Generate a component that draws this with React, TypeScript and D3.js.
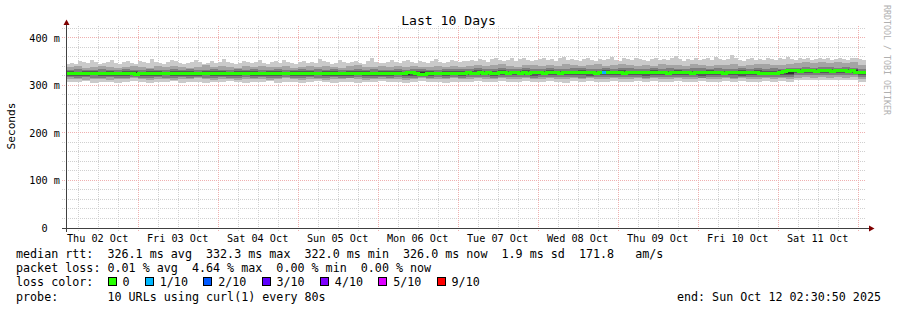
import React from 'react';
import * as d3 from 'd3';

// ---- time range ----
const END = Date.UTC(2025, 9, 12, 2, 30, 50);
const START = END - 10 * 86400000;

// ---- series (ms) ----
const median = [
  324.5,325,324,324.5,325,325.5,324,323.5,324.5,325, 325,324.5,324,325,325.5,324.5,324,323,324.5,325,
  325,324.5,325,324,324.5,325.5,325,324,324.5,325, 324.5,324,325,325.5,324.5,324,325,324.5,325,324,
  324.5,325,324.5,324,323.5,324.5,325,325,324.5,325.5, 324,324.5,325,324.5,324,325,325.5,325,324.5,324,
  324.5,325,324,323.5,324.5,325,324.5,325,325.5,324.5, 324,324.5,325,324.5,325,324,324.5,325,324.5,325,
  325,324.5,324.5,325,324,326,327,325,323,322.5, 324,325,325.5,324.5,325,325.5,324.5,325,325,325.5,
  326,325.5,325,326,325.5,326,325,325.5,326,326, 325.5,326,326.5,325.5,326,325.5,326,326.5,326,325.5,
  326,326.5,326,325.5,326,326.5,326,326.5,327,326, 326.5,326,325.5,326,326,326.5,326,326.5,326,325.5,
  326,326.5,326,326.5,327,326.5,326,326,326.5,326, 325.5,326,326.5,326,326.5,326,325.5,326,326.5,326,
  326.5,326,326.5,326,325.5,326,326.5,326,326,326.5, 326,326.5,326,325.5,325,324,323.5,325,326,328,
  330,330.5,330,329.5,330,330.5,330,329.5,330,330.5, 330,329.5,330,330.5,330,329.5,330,326.5,326,326.5,
];
const pingMax = [
  345,347,344,350,348,346,352,349,345,347, 348,353,346,344,349,351,347,345,350,348,
  346,354,349,347,345,348,352,350,346,344, 347,349,353,348,345,346,350,347,349,355,
  348,346,344,347,351,349,346,348,352,347, 345,349,350,347,353,348,346,344,348,351,
  347,349,346,354,350,348,345,347,352,349, 346,348,351,347,345,350,356,349,347,346,
  348,352,349,346,350,353,348,347,351,349, 346,350,354,348,347,349,352,350,348,351,
  350,353,351,355,352,349,354,357,352,350, 353,356,351,354,358,353,350,352,355,357,
  352,354,351,356,359,353,355,352,350,354, 357,353,351,355,352,354,360,353,351,356,
  354,352,357,355,353,351,354,358,352,355, 353,356,362,354,351,355,353,357,352,354,
  356,353,359,355,352,354,364,356,353,351, 355,357,353,354,352,358,355,353,356,354,
  360,355,353,357,354,356,352,355,358,354, 356,353,355,357,354,352,356,358,355,353,
];
const ping9 = [
  338,340,337,339,341,338,336,339,340,338, 337,340,339,341,338,337,339,342,338,340,
  339,337,340,338,341,339,338,340,337,339, 341,338,340,339,337,340,342,339,338,340,
  339,341,338,340,339,338,341,339,340,338, 341,343,340,342,344,341,339,343,342,340,
  343,341,344,342,340,343,345,341,342,344, 342,340,343,341,344,342,343,341,345,342,
  341,343,342,344,341,343,345,344,342,343, 345,346,348,347,349,347,348,347,348,343,
];
const ping8 = [
  332,333,331,332,334,332,331,333,332,331, 333,332,331,333,332,334,331,332,333,332,
  331,333,332,334,332,331,333,332,331,333, 332,334,331,333,332,331,334,332,333,332,
  331,333,332,334,333,332,331,333,334,333, 334,335,333,334,336,334,333,335,334,333,
  335,334,333,335,336,334,333,335,334,336, 335,333,334,336,334,335,333,334,336,335,
  334,335,333,334,335,334,336,334,335,334, 335,337,338,337,339,338,337,338,337,333,
];
const ping7 = [
  329,328,329,330,328,329,328,330,329,328, 329,330,328,329,330,329,328,329,330,329,
  328,329,330,329,328,330,329,328,329,330, 329,328,330,329,328,329,330,329,328,329,
  330,329,328,329,330,329,328,329,330,329, 330,331,329,330,331,330,329,331,330,329,
  331,330,329,330,331,330,329,331,330,331, 330,329,330,331,330,329,331,330,329,330,
  331,330,329,330,331,330,331,329,330,331, 331,333,334,333,334,333,334,333,334,330,
];
const ping6 = [
  326,327,326,327,326,327,326,327,327,326, 327,326,327,326,327,326,327,326,327,327,
  326,327,326,327,326,327,327,326,327,326, 327,326,327,326,327,326,327,327,326,327,
  326,327,327,326,327,327,326,327,327,328, 328,327,328,327,328,328,327,328,327,328,
  328,327,328,328,327,328,327,328,328,327, 328,327,328,327,328,328,327,328,327,328,
  327,328,328,327,328,327,328,327,328,328, 328,331,332,331,332,331,332,331,332,328,
];
const ping5 = [
  323,322,323,323,322,323,322,323,323,322, 323,322,323,323,322,323,323,322,323,322,
  323,323,322,323,322,323,323,322,323,322, 323,322,323,323,322,323,322,323,323,322,
  323,323,322,323,324,323,324,323,324,323, 324,325,324,324,325,324,325,324,324,325,
  324,325,324,325,324,324,325,324,325,324, 325,324,325,324,325,325,324,325,324,325,
  324,325,324,325,324,325,324,325,324,325, 324,328,329,328,329,328,329,328,329,324,
];
const ping4 = [
  320,319,320,321,319,320,320,319,321,320, 319,320,321,320,319,320,320,321,319,320,
  320,319,321,320,320,319,320,321,320,319, 320,321,319,320,320,319,321,320,319,320,
  320,321,319,320,321,320,321,320,321,320, 321,322,321,320,322,321,322,321,320,322,
  321,322,321,322,321,320,322,321,322,321, 322,321,320,322,321,322,321,322,321,320,
  322,321,322,321,320,322,321,322,321,322, 321,325,326,325,326,325,326,325,326,321,
];
const ping3 = [
  317,316,317,315,316,317,316,315,317,316, 316,317,315,316,317,316,317,315,316,317,
  316,315,317,316,317,316,315,317,316,316, 317,316,315,317,316,316,317,315,316,317,
  316,317,316,315,317,316,317,316,317,316, 317,318,317,316,318,317,318,317,316,318,
  317,318,317,318,316,317,318,317,318,317, 318,317,316,318,317,318,317,318,317,316,
  318,317,318,316,317,318,317,318,317,318, 317,321,322,321,322,321,322,321,322,317,
];
const ping2 = [
  313,312,311,313,312,311,313,312,314,312, 311,313,312,311,313,312,314,312,311,313,
  312,311,313,312,313,311,312,314,312,311, 313,312,311,313,312,314,312,311,313,312,
  312,313,311,312,314,313,312,313,314,312, 313,314,312,313,315,313,312,314,313,312,
  314,313,312,314,313,315,313,312,314,313, 312,314,313,315,313,312,314,313,312,314,
  313,312,314,313,315,313,312,314,313,314, 313,316,317,316,317,316,317,316,317,313,
];
const pingMin = [
  307,306,308,305,307,306,304,307,308,306, 305,307,306,308,305,307,306,304,307,306,
  308,306,305,307,306,308,305,307,306,305, 307,308,306,305,307,306,304,307,306,308,
  306,307,305,306,308,307,306,305,307,306, 307,308,306,307,309,307,306,308,307,306,
  308,307,305,308,307,309,306,307,308,306, 307,308,306,309,307,306,308,307,306,308,
  307,306,308,307,309,307,306,308,307,308, 307,310,311,310,311,310,311,310,311,307,
];

// loss events on the median (step index, loss level index into lossColors)
const lossStep = [134];
const lossLevel = [1];

const smokeColors = ['#cacaca', '#a4a4a4', '#7e7e7e', '#585858', '#323232'];
const lossLabels = ['0', '1/10', '2/10', '3/10', '4/10', '5/10', '9/10'];
const lossColors = ['#26ff00', '#00b8ff', '#0059ff', '#5e00ff', '#7e00ff', '#dd00ff', '#ff0000'];

const yTicks = [0, 100, 200, 300, 400];
const yMinor = [20, 40, 60, 80, 120, 140, 160, 180, 220, 240, 260, 280, 320, 340, 360, 380, 420];

const title = 'Last 10 Days';
const yLabel = 'Seconds';
const legendRtt = 'median rtt:  326.1 ms avg  332.3 ms max  322.0 ms min  326.0 ms now  1.9 ms sd  171.8   am/s';
const legendLoss = 'packet loss: 0.01 % avg  4.64 % max  0.00 % min  0.00 % now';
const legendLossHead = 'loss color:';
const legendProbe = 'probe:       10 URLs using curl(1) every 80s';
const legendEnd = 'end: Sun Oct 12 02:30:50 2025';
const watermark = 'RRDTOOL / TOBI OETIKER';

const MONO = '"DejaVu Sans Mono", monospace';

export default function App() {
  const W = 897, H = 310;
  const x = d3.scaleUtc().domain([new Date(START), new Date(END)]).range([66, 866]);
  const y = d3.scaleLinear().domain([0, 420]).range([228, 28]);
  const N = median.length;
  const stepMs = (END - START) / N;
  const times = d3.range(N + 1).map(j => new Date(START + j * stepMs));
  const sample = (arr: number[], j: number) => arr[Math.min(arr.length - 1, Math.floor((j * arr.length) / N))];
  const idx = d3.range(N + 1);

  const pairs: [number[], number[]][] = [
    [pingMin, pingMax],
    [ping2, ping9],
    [ping3, ping8],
    [ping4, ping7],
    [ping5, ping6],
  ];

  const areaFor = (lo: number[], hi: number[]) =>
    d3.area<number>()
      .x(j => x(times[j]))
      .y0(j => y(sample(lo, j)))
      .y1(j => y(sample(hi, j)))
      .curve(d3.curveStepAfter)(idx) || '';

  const medLine = d3.line<number>()
    .x(j => x(times[j]))
    .y(j => y(sample(median, j)))
    .curve(d3.curveStepAfter)(idx) || '';

  const sixHours = d3.utcHour.every(6)!.range(new Date(START), new Date(END));
  const days = d3.utcDay.range(new Date(START), new Date(END));
  const noons = days
    .map(d => new Date(d.getTime() - 12 * 3600000))
    .filter(d => d.getTime() > START);
  const fmt = d3.utcFormat('%a %d %b');
  const px = (v: number) => Math.round(v) + 0.5;
  const py = (v: number) => Math.floor(v) + 0.5;

  const cw = 11.7 * 0.6021;
  let bx = 16 + 13 * cw;
  const lossItems = lossLabels.map((lab, k) => {
    const item = { bx, lab, color: lossColors[k] };
    bx += (lab.length + 4) * cw + 2;
    return item;
  });

  const minorC = '#d0d0d0';
  const majorC = '#efb0b0';

  return (
    <svg width={W} height={H} style={{ position: 'absolute', left: 0, top: 0, background: '#fff' }}
      xmlns="http://www.w3.org/2000/svg">
      <rect x={0} y={0} width={W} height={H} fill="#fff" />
      <defs>
        <clipPath id="plot">
          <rect x={66} y={28} width={800} height={200} />
        </clipPath>
      </defs>

      {/* grid */}
      <g strokeWidth={1} strokeDasharray="1,1" shapeRendering="crispEdges">
        {yMinor.map(v => (
          <line key={'hm' + v} x1={62} x2={866} y1={py(y(v))} y2={py(y(v))} stroke={minorC} />
        ))}
        {sixHours.filter(t => t.getUTCHours() !== 0).map(t => (
          <line key={'vm' + t.getTime()} x1={px(x(t))} x2={px(x(t))} y1={26} y2={231} stroke={minorC} />
        ))}
        {yTicks.filter(v => v > 0).map(v => (
          <line key={'hM' + v} x1={62} x2={866} y1={py(y(v))} y2={py(y(v))} stroke={majorC} />
        ))}
        {days.map(t => (
          <line key={'vM' + t.getTime()} x1={px(x(t))} x2={px(x(t))} y1={26} y2={231} stroke={majorC} />
        ))}
      </g>

      {/* smoke */}
      <g clipPath="url(#plot)" shapeRendering="crispEdges">
        {pairs.map(([lo, hi], k) => (
          <path key={'s' + k} d={areaFor(lo, hi)} fill={smokeColors[k]} />
        ))}
        <path d={medLine} fill="none" stroke={lossColors[0]} strokeWidth={3} />
        {lossStep.map((s, k) => (
          <line key={'l' + k} x1={x(times[s])} x2={x(times[s + 1])} y1={y(median[s])} y2={y(median[s])}
            stroke={lossColors[lossLevel[k]]} strokeWidth={3} />
        ))}
      </g>

      {/* axes */}
      <g shapeRendering="crispEdges">
        <line x1={62} x2={870} y1={228.5} y2={228.5} stroke="#404040" />
        <line x1={66.5} x2={66.5} y1={232} y2={24} stroke="#404040" />
      </g>
      <path d="M63.5,25 L69.5,25 L66.5,19.5 Z" fill="#7f0000" />
      <path d="M869,225.5 L869,231.5 L874.5,228.5 Z" fill="#7f0000" />

      {/* y tick labels */}
      <g fontFamily={MONO} fontSize={10.2} fill="#000" textAnchor="end">
        {yTicks.map(v => (
          <text key={'yt' + v} x={60} y={y(v) + 4} xmlSpace="preserve" style={{ whiteSpace: 'pre' }}>
            {v === 0 ? '0  ' : `${v} m`}
          </text>
        ))}
      </g>

      {/* x tick labels, centred at noon */}
      <g fontFamily={MONO} fontSize={10.2} fill="#000" textAnchor="middle">
        {noons.map(d => (
          <text key={'xt' + d.getTime()} x={x(d)} y={241.5}>{fmt(d)}</text>
        ))}
      </g>

      {/* title & unit */}
      <text x={448.5} y={24.5} fontFamily={MONO} fontSize={13.1} textAnchor="middle" fill="#000">{title}</text>
      <text transform="translate(15,126) rotate(-90)" fontFamily={MONO} fontSize={11.2} textAnchor="middle" fill="#000">{yLabel}</text>
      <text transform="translate(884,5) rotate(90)" fontFamily={MONO} fontSize={8.3} fill="#b0b0b0">{watermark}</text>

      {/* legend */}
      <g fontFamily={MONO} fontSize={11.7} fill="#000" style={{ whiteSpace: 'pre' }}>
        <text x={16} y={257.5} xmlSpace="preserve">{legendRtt}</text>
        <text x={16} y={271.8} xmlSpace="preserve">{legendLoss}</text>
        <text x={16} y={286} xmlSpace="preserve">{legendLossHead}</text>
        {lossItems.map(it => (
          <g key={'li' + it.lab}>
            <rect x={Math.round(it.bx) + 0.5} y={277.5} width={8} height={8} fill={it.color} stroke="#000" shapeRendering="crispEdges" />
            <text x={it.bx + 15} y={286}>{it.lab}</text>
          </g>
        ))}
        <text x={16} y={300.5} xmlSpace="preserve">{legendProbe}</text>
        <text x={881} y={300.5} textAnchor="end">{legendEnd}</text>
      </g>
    </svg>
  );
}
